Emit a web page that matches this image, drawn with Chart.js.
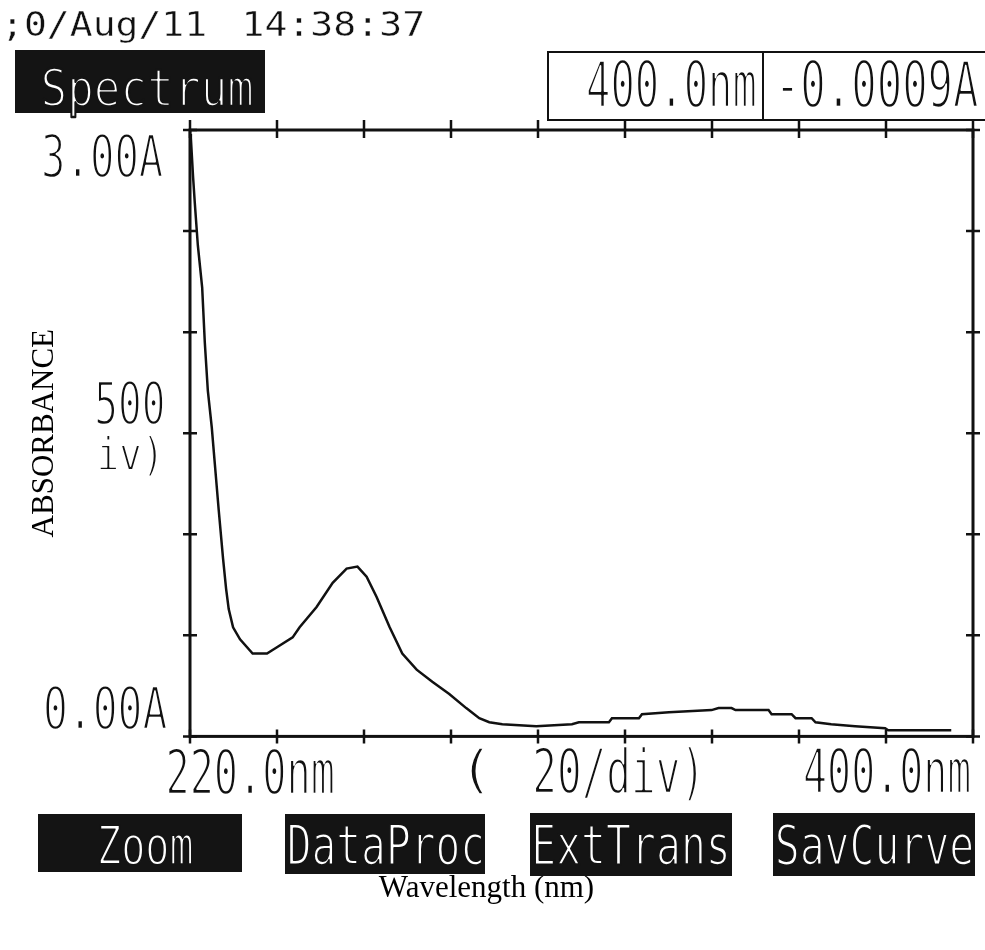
<!DOCTYPE html>
<html>
<head>
<meta charset="utf-8">
<title>Spectrum</title>
<script src="https://cdn.jsdelivr.net/npm/chart.js@4.4.1/dist/chart.umd.min.js"></script>
<style>
  html, body { margin: 0; padding: 0; background: #fff; }
  #wrap { width: 985px; height: 950px; }
</style>
</head>
<body>
<div id="wrap"><canvas id="spec"></canvas></div>
<script>
// ═══════════════════════════════════════════════
//  Spectrum printout  —  absorbance vs wavelength
// ═══════════════════════════════════════════════

// ── DATA ──────────────────────────────────────
const wavelengths = [220.0, 220.2, 220.7, 221.1, 221.8, 222.8, 223.4, 224.1, 225.0, 225.7,
  226.6, 227.6, 228.3, 228.9, 229.9, 231.5, 234.4, 236.1, 237.7, 239.9,
  243.6, 245.2, 249.1, 252.8, 256.0, 258.5, 260.6, 262.9, 265.9, 268.8,
  272.1, 275.7, 279.6, 283.5, 286.5, 288.8, 291.8, 299.6, 307.8, 309.4,
  316.3, 317.0, 323.2, 323.9, 330.1, 339.9, 341.5, 344.5, 345.4, 353.0,
  353.7, 358.3, 359.2, 362.9, 363.8, 367.4, 372.9, 379.8, 380.5, 395.0];
const absorbance = [2.98, 2.96, 2.77, 2.64, 2.43, 2.22, 1.95, 1.71, 1.53, 1.35,
  1.12, 0.88, 0.73, 0.63, 0.54, 0.48, 0.41, 0.41, 0.41, 0.44,
  0.49, 0.54, 0.64, 0.76, 0.83, 0.84, 0.79, 0.69, 0.54, 0.41,
  0.33, 0.27, 0.21, 0.14, 0.09, 0.07, 0.06, 0.05, 0.06, 0.07,
  0.07, 0.09, 0.09, 0.11, 0.12, 0.13, 0.14, 0.14, 0.13, 0.13,
  0.11, 0.11, 0.09, 0.09, 0.07, 0.06, 0.05, 0.04, 0.03, 0.03];

const xRange = [220, 400];      // nm, 20/div
const yRange = [0, 3];          // A, 0.5/div

// instrument screen text: [text, left, right, capTop, baseline, colour, thinning]
const screenText = [
  [';0/Aug/11', 8, 205, 12, 36, '#111', 0.4],
  ['14:38:37', 245, 423, 12, 36, '#111', 0.4],
  ['Spectrum', 43, 252, 68, 106, '#fff', 2.4],
  ['400.0nm', 588, 755, 60, 107, '#111', 2.4],
  ['-0.0009A', 782, 978, 60, 107, '#111', 2.4],
  ['3.00A', 43, 163, 134, 177, '#111', 2.3],
  ['500', 97, 163, 381, 424, '#111', 2.3],
  ['iv)', 100, 157, 436, 470, '#111', 1.8],
  ['0.00A', 45, 167, 686, 729, '#111', 2.3],
  ['220.0nm', 168, 333, 748, 794, '#111', 2.3],
  ['(', 470, 484, 749, 787, '#111', 1.4],
  ['20/div)', 535, 697, 748, 793, '#111', 2.3],
  ['400.0nm', 805, 970, 748, 793, '#111', 2.3],
  ['Zoom', 100, 192, 825, 864, '#fff', 2.0],
  ['DataProc', 289, 482, 824, 864, '#fff', 2.0],
  ['ExtTrans', 535, 727, 824, 864, '#fff', 2.0],
  ['SavCurve', 777, 972, 824, 864, '#fff', 2.0]
];
// black soft-key boxes: [left, top, right, bottom]
const keyBoxes = [
  [15, 50, 265, 113],
  [38, 814, 242, 872],
  [285, 814, 485, 874],
  [530, 813, 732, 876],
  [773, 813, 975, 876]
];

// ── HELPERS ───────────────────────────────────
// draws text squeezed into a box, like the tall thin printer font
function fitText(ctx, txt, x0, x1, top, base, colour, thin) {
  const size = (base - top) / 0.729;
  ctx.save();
  ctx.font = size + 'px "DejaVu Sans Mono"';
  ctx.textBaseline = 'alphabetic';
  ctx.textAlign = 'left';
  const m = ctx.measureText(txt);
  const inkW = m.actualBoundingBoxLeft + m.actualBoundingBoxRight;
  const sx = (x1 - x0) / inkW;
  ctx.translate(x0 + m.actualBoundingBoxLeft * sx, base);
  ctx.scale(sx, 1);
  ctx.fillStyle = colour;
  ctx.fillText(txt, 0, 0);
  // thin the strokes down by eroding with the paper / key colour
  if (thin > 0) {
    ctx.strokeStyle = colour === '#fff' ? '#141414' : '#fff';
    ctx.lineWidth = thin;
    ctx.lineJoin = 'round';
    ctx.strokeText(txt, 0, 0);
  }
  ctx.restore();
}

// ── PRINTOUT PLUGIN (frame, ticks, readout, keys) ──
const printout = {
  id: 'printout',
  afterDatasetsDraw(chart) {
    const { ctx, chartArea: a, scales: { x, y } } = chart;
    ctx.save();
    ctx.strokeStyle = '#111';
    ctx.lineCap = 'butt';

    // plot frame
    ctx.lineWidth = 3;
    ctx.strokeRect(a.left, a.top, a.right - a.left, a.bottom - a.top);

    // crossing tick marks on all four sides
    ctx.lineWidth = 2.5;
    ctx.beginPath();
    x.ticks.forEach(t => {
      const px = x.getPixelForValue(t.value);
      ctx.moveTo(px, a.bottom - 7); ctx.lineTo(px, a.bottom + 7);
      ctx.moveTo(px, a.top - 10);   ctx.lineTo(px, a.top + 8);
    });
    y.ticks.forEach(t => {
      const py = y.getPixelForValue(t.value);
      ctx.moveTo(a.left - 7, py);  ctx.lineTo(a.left + 7, py);
      ctx.moveTo(a.right - 7, py); ctx.lineTo(a.right + 7, py);
    });
    ctx.stroke();

    // cursor readout box
    ctx.lineWidth = 2;
    ctx.beginPath();
    ctx.moveTo(985, 52);  ctx.lineTo(548, 52);
    ctx.lineTo(548, 120); ctx.lineTo(985, 120);
    ctx.moveTo(763, 52);  ctx.lineTo(763, 120);
    ctx.stroke();

    // soft keys
    ctx.fillStyle = '#141414';
    keyBoxes.forEach(([l, t, r, b]) => ctx.fillRect(l, t, r - l, b - t));

    screenText.forEach(([txt, x0, x1, top, base, c, thin]) => fitText(ctx, txt, x0, x1, top, base, c, thin));
    ctx.restore();
  }
};

// ── CHART ─────────────────────────────────────
const points = wavelengths.map((w, i) => ({ x: w, y: absorbance[i] }));

new Chart(document.getElementById('spec').getContext('2d'), {
  type: 'line',
  data: {
    datasets: [{
      label: 'Absorbance',
      data: points,
      borderColor: '#111',
      borderWidth: 2.5,
      pointRadius: 0,
      tension: 0,
      fill: false
    }]
  },
  options: {
    responsive: true,
    maintainAspectRatio: false,
    animation: false,
    layout: { padding: { top: 130, right: 12, bottom: 0, left: 0 } },
    plugins: {
      legend: { display: false },
      tooltip: { enabled: false },
      title: {
        display: true,
        position: 'bottom',
        text: 'Wavelength (nm)',
        color: '#000',
        font: { family: '"Liberation Serif", "Times New Roman", serif', size: 31, weight: 'normal' },
        padding: { top: 0, bottom: 43 }
      }
    },
    scales: {
      x: {
        type: 'linear',
        min: xRange[0], max: xRange[1],
        ticks: { stepSize: 20, display: false },
        grid: { display: false },
        border: { display: false },
        afterFit(s) { s.height = 133.4; }
      },
      y: {
        min: yRange[0], max: yRange[1],
        ticks: { stepSize: 0.5, display: false },
        grid: { display: false },
        border: { display: false },
        title: {
          display: true,
          text: 'ABSORBANCE',
          color: '#000',
          font: { family: '"Liberation Serif", "Times New Roman", serif', size: 31, weight: 'normal' },
          padding: { top: 26, bottom: 0 }
        },
        afterFit(s) { s.width = 190; }
      }
    }
  },
  plugins: [printout]
});
</script>
</body>
</html>
